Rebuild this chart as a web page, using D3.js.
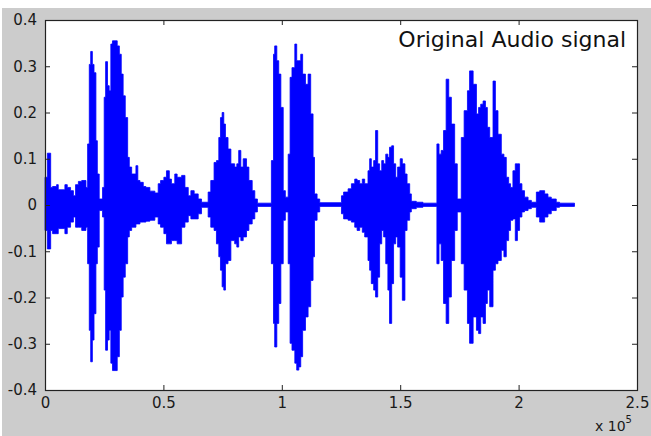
<!DOCTYPE html>
<html>
<head>
<meta charset="utf-8">
<script src="https://cdn.jsdelivr.net/npm/d3@7"></script>
<style>
  html, body { margin: 0; padding: 0; background: #fff; }
  svg { display: block; }
  .tick-label { font-family: "DejaVu Sans", sans-serif; font-size: 15px; fill: #1a1a1a; }
  .title { font-family: "DejaVu Sans", sans-serif; font-size: 22px; fill: #111; }
</style>
</head>
<body>
<div id="chart"></div>
<script>
"use strict";

// envelope of the waveform (sample index, upper / lower peak)
const sampleIdx = [
    0, 1000, 2400, 3200, 4900, 5600, 8400, 9400, 10800, 12000, 12900, 14100, 15500, 17300,
    18000, 18700, 19300, 20000, 20700, 21500, 22100, 22900, 24300, 25000, 25600, 26400, 27100,
    27800, 28500, 30500, 31400, 32200, 33000, 33900, 34900, 35600, 36600, 38400, 39200, 40100,
    41500, 42600, 44300, 46400, 47800, 48800, 50200, 51300, 52500, 53400, 54800, 55800,
    57700, 59100, 60500, 61600, 63000, 64700, 66100, 68900, 70000, 71400, 72400, 73400, 74100,
    74800, 75500, 76200, 77300, 78500, 80100, 81000, 81800, 82700, 83700, 85100, 86100, 87500,
    88600, 89700, 95600, 96500, 97000, 97900, 98700, 99600, 100600, 101500, 102700, 103500,
    104300, 105500, 106300, 107200, 108000, 108800, 110000, 111100, 112200, 113200,
    113800, 114900, 116000, 125200, 126100, 128000, 129400, 130800, 131800, 132900, 134000,
    135000, 136400, 137100, 137800, 138800, 139600, 140500, 141300, 142200, 143000, 143900,
    144800, 145500, 146400, 147200, 148100, 148900, 150000, 150900, 152000, 152900, 154000,
    154700, 156800, 159600, 165500, 166400, 167300, 168300, 169400,
    170500, 171600, 173000, 174100, 175800, 177000, 178400, 179300, 180800, 182200, 183100,
    184000, 185000, 186000, 186800, 187800, 189200, 190200, 191300, 192700, 193800, 194800,
    195800, 196600, 197600, 198600, 199500, 200400, 201400, 202500, 204000, 205400, 207500,
    208900, 211000, 212400, 213800, 215900, 217300, 223600
];
const upperEnv = [
    0.060, 0.112, 0.038, 0.040, 0.044, 0.033, 0.044, 0.038, 0.031, 0.020, 0.044, 0.051, 0.053, 0.038,
    0.132, 0.304, 0.332, 0.304, 0.286, 0.139, 0.067, 0.013, 0.038, 0.233, 0.310, 0.258, 0.247,
    0.348, 0.355, 0.344, 0.326, 0.283, 0.236, 0.189, 0.103, 0.082, 0.067, 0.085, 0.053, 0.049,
    0.040, 0.038, 0.030, 0.026, 0.046, 0.053, 0.060, 0.074, 0.056, 0.046, 0.067, 0.060,
    0.064, 0.038, 0.020, 0.031, 0.024, 0.013, 0.006, 0.028, 0.053, 0.092, 0.096, 0.146, 0.189,
    0.200, 0.175, 0.146, 0.121, 0.089, 0.082, 0.089, 0.118, 0.082, 0.100, 0.082, 0.053, 0.031,
    0.013, 0.004, 0.096, 0.326, 0.344, 0.312, 0.283, 0.211, 0.031, 0.017, 0.110, 0.276,
    0.297, 0.348, 0.312, 0.312, 0.326, 0.283, 0.261, 0.283, 0.197, 0.103,
    0.024, 0.013, 0.005, 0.020, 0.028, 0.035, 0.046, 0.056, 0.053, 0.046, 0.056,
    0.046, 0.074, 0.100, 0.082, 0.096, 0.161, 0.089, 0.074, 0.096, 0.089, 0.110,
    0.103, 0.125, 0.128, 0.089, 0.060, 0.082, 0.100, 0.089, 0.067, 0.046, 0.024,
    0.008, 0.006, 0.004, 0.132, 0.110, 0.118, 0.161, 0.272,
    0.233, 0.175, 0.089, 0.013, 0.146, 0.204, 0.247, 0.290, 0.261, 0.197, 0.211,
    0.218, 0.225, 0.211, 0.168, 0.146, 0.268, 0.204, 0.153, 0.110, 0.103, 0.060,
    0.046, 0.038, 0.074, 0.089, 0.089, 0.046, 0.031, 0.017, 0.010, 0.006, 0.028,
    0.031, 0.024, 0.017, 0.013, 0.006, 0.004, 0.004
];
const lowerEnv = [
    -0.055, -0.095, -0.055, -0.062, -0.062, -0.051, -0.062, -0.048, -0.037, -0.026, -0.048, -0.048, -0.055, -0.048,
    -0.127, -0.271, -0.339, -0.292, -0.235, -0.127, -0.091, -0.012, -0.026, -0.184, -0.314, -0.292, -0.271,
    -0.342, -0.358, -0.328, -0.271, -0.199, -0.156, -0.127, -0.069, -0.055, -0.048, -0.041, -0.041, -0.037,
    -0.037, -0.035, -0.033, -0.026, -0.041, -0.048, -0.062, -0.084, -0.084, -0.077, -0.077, -0.084,
    -0.048, -0.037, -0.023, -0.030, -0.030, -0.019, -0.005, -0.026, -0.048, -0.055, -0.084, -0.112, -0.141,
    -0.177, -0.184, -0.127, -0.120, -0.077, -0.084, -0.091, -0.069, -0.077, -0.069, -0.055, -0.041, -0.030,
    -0.015, -0.003, -0.127, -0.256, -0.307, -0.256, -0.213, -0.127, -0.033, -0.015, -0.127, -0.299,
    -0.314, -0.342, -0.357, -0.350, -0.328, -0.271, -0.242, -0.220, -0.163, -0.112,
    -0.033, -0.015, -0.003, -0.019, -0.030, -0.033, -0.037, -0.048, -0.055, -0.048, -0.059,
    -0.069, -0.120, -0.141, -0.170, -0.184, -0.199, -0.156, -0.084, -0.055, -0.069, -0.127,
    -0.184, -0.256, -0.170, -0.084, -0.069, -0.091, -0.156, -0.206, -0.055, -0.033, -0.015,
    -0.008, -0.005, -0.003, -0.127, -0.084, -0.120, -0.213, -0.256,
    -0.199, -0.120, -0.055, -0.015, -0.127, -0.184, -0.256, -0.299, -0.242, -0.271, -0.278,
    -0.242, -0.256, -0.213, -0.184, -0.220, -0.141, -0.127, -0.120, -0.098, -0.112, -0.077,
    -0.055, -0.033, -0.030, -0.077, -0.055, -0.026, -0.015, -0.012, -0.008, -0.005, -0.026,
    -0.037, -0.026, -0.019, -0.012, -0.005, -0.003, -0.003
];

const xTicks = [0, 50000, 100000, 150000, 200000, 250000];
const xTickLabels = ["0", "0.5", "1", "1.5", "2", "2.5"];
const yTicks = [0.4, 0.3, 0.2, 0.1, 0, -0.1, -0.2, -0.3, -0.4];
const yTickLabels = ["0.4", "0.3", "0.2", "0.1", "0", "-0.1", "-0.2", "-0.3", "-0.4"];
const titleText = "Original Audio signal";

const width = 651, height = 436;
const margin = { top: 20, right: 14, bottom: 46, left: 45 };
const innerWidth = width - margin.left - margin.right;
const innerHeight = height - margin.top - margin.bottom;

const points = sampleIdx.map((s, i) => ({ s: s, hi: upperEnv[i], lo: lowerEnv[i] }));

const svg = d3.select("#chart")
    .append("svg")
    .attr("width", width)
    .attr("height", height);

// grey figure background, thin white strip at top / left like the screenshot
svg.append("rect")
    .attr("x", 2).attr("y", 8)
    .attr("width", width - 2).attr("height", height - 8)
    .attr("fill", "#cccccc");

const xScale = d3.scaleLinear()
    .domain([0, 250000])
    .range([margin.left, margin.left + innerWidth]);

const yScale = d3.scaleLinear()
    .domain([-0.4, 0.4])
    .range([margin.top + innerHeight, margin.top]);

svg.append("rect")
    .attr("x", margin.left).attr("y", margin.top)
    .attr("width", innerWidth).attr("height", innerHeight)
    .attr("fill", "#ffffff");

const area = d3.area()
    .curve(d3.curveStepAfter)
    .x(d => xScale(d.s))
    .y0(d => yScale(d.lo))
    .y1(d => yScale(d.hi));

svg.append("path")
    .datum(points)
    .attr("d", area)
    .attr("fill", "#0000ff")
    .attr("stroke", "#0000ff")
    .attr("stroke-width", 0.8);

// axes: ticks inward on all four sides, labels only bottom / left
const tickLen = 5;
const xLabel = d => xTickLabels[xTicks.indexOf(d)];
const yLabel = d => yTickLabels[yTicks.indexOf(d)];

const bottomAxis = svg.append("g")
    .attr("transform", `translate(0, ${margin.top + innerHeight})`)
    .call(d3.axisBottom(xScale).tickValues(xTicks).tickSize(-tickLen).tickPadding(7).tickFormat(xLabel));
const topAxis = svg.append("g")
    .attr("transform", `translate(0, ${margin.top})`)
    .call(d3.axisTop(xScale).tickValues(xTicks).tickSize(-tickLen));
const leftAxis = svg.append("g")
    .attr("transform", `translate(${margin.left}, 0)`)
    .call(d3.axisLeft(yScale).tickValues(yTicks).tickSize(-tickLen).tickPadding(8).tickFormat(yLabel));
const rightAxis = svg.append("g")
    .attr("transform", `translate(${margin.left + innerWidth}, 0)`)
    .call(d3.axisRight(yScale).tickValues(yTicks).tickSize(-tickLen));

// mirrored axes only carry tick marks
topAxis.selectAll(".tick text").remove();
rightAxis.selectAll(".tick text").remove();

[bottomAxis, topAxis, leftAxis, rightAxis].forEach(g => {
    g.attr("font-family", null).attr("font-size", null);
    g.selectAll(".domain").remove();
    g.selectAll(".tick line").attr("stroke", "#222").attr("stroke-width", 1);
    g.selectAll(".tick text").attr("class", "tick-label").attr("fill", null);
});
bottomAxis.selectAll(".tick text").attr("dy", "0.71em");

svg.append("rect")
    .attr("x", margin.left + 0.5).attr("y", margin.top + 0.5)
    .attr("width", innerWidth).attr("height", innerHeight)
    .attr("fill", "none")
    .attr("stroke", "#222")
    .attr("stroke-width", 1.2);

svg.append("text")
    .attr("class", "title")
    .attr("x", 626)
    .attr("y", 47)
    .attr("text-anchor", "end")
    .text(titleText);

// exponent note under the x axis
const expNote = svg.append("text")
    .attr("class", "tick-label")
    .attr("x", 595)
    .attr("y", 431)
    .style("font-size", "14px");
expNote.append("tspan").text("x 10");
expNote.append("tspan").attr("dy", -8).style("font-size", "10px").text("5");
</script>
</body>
</html>
